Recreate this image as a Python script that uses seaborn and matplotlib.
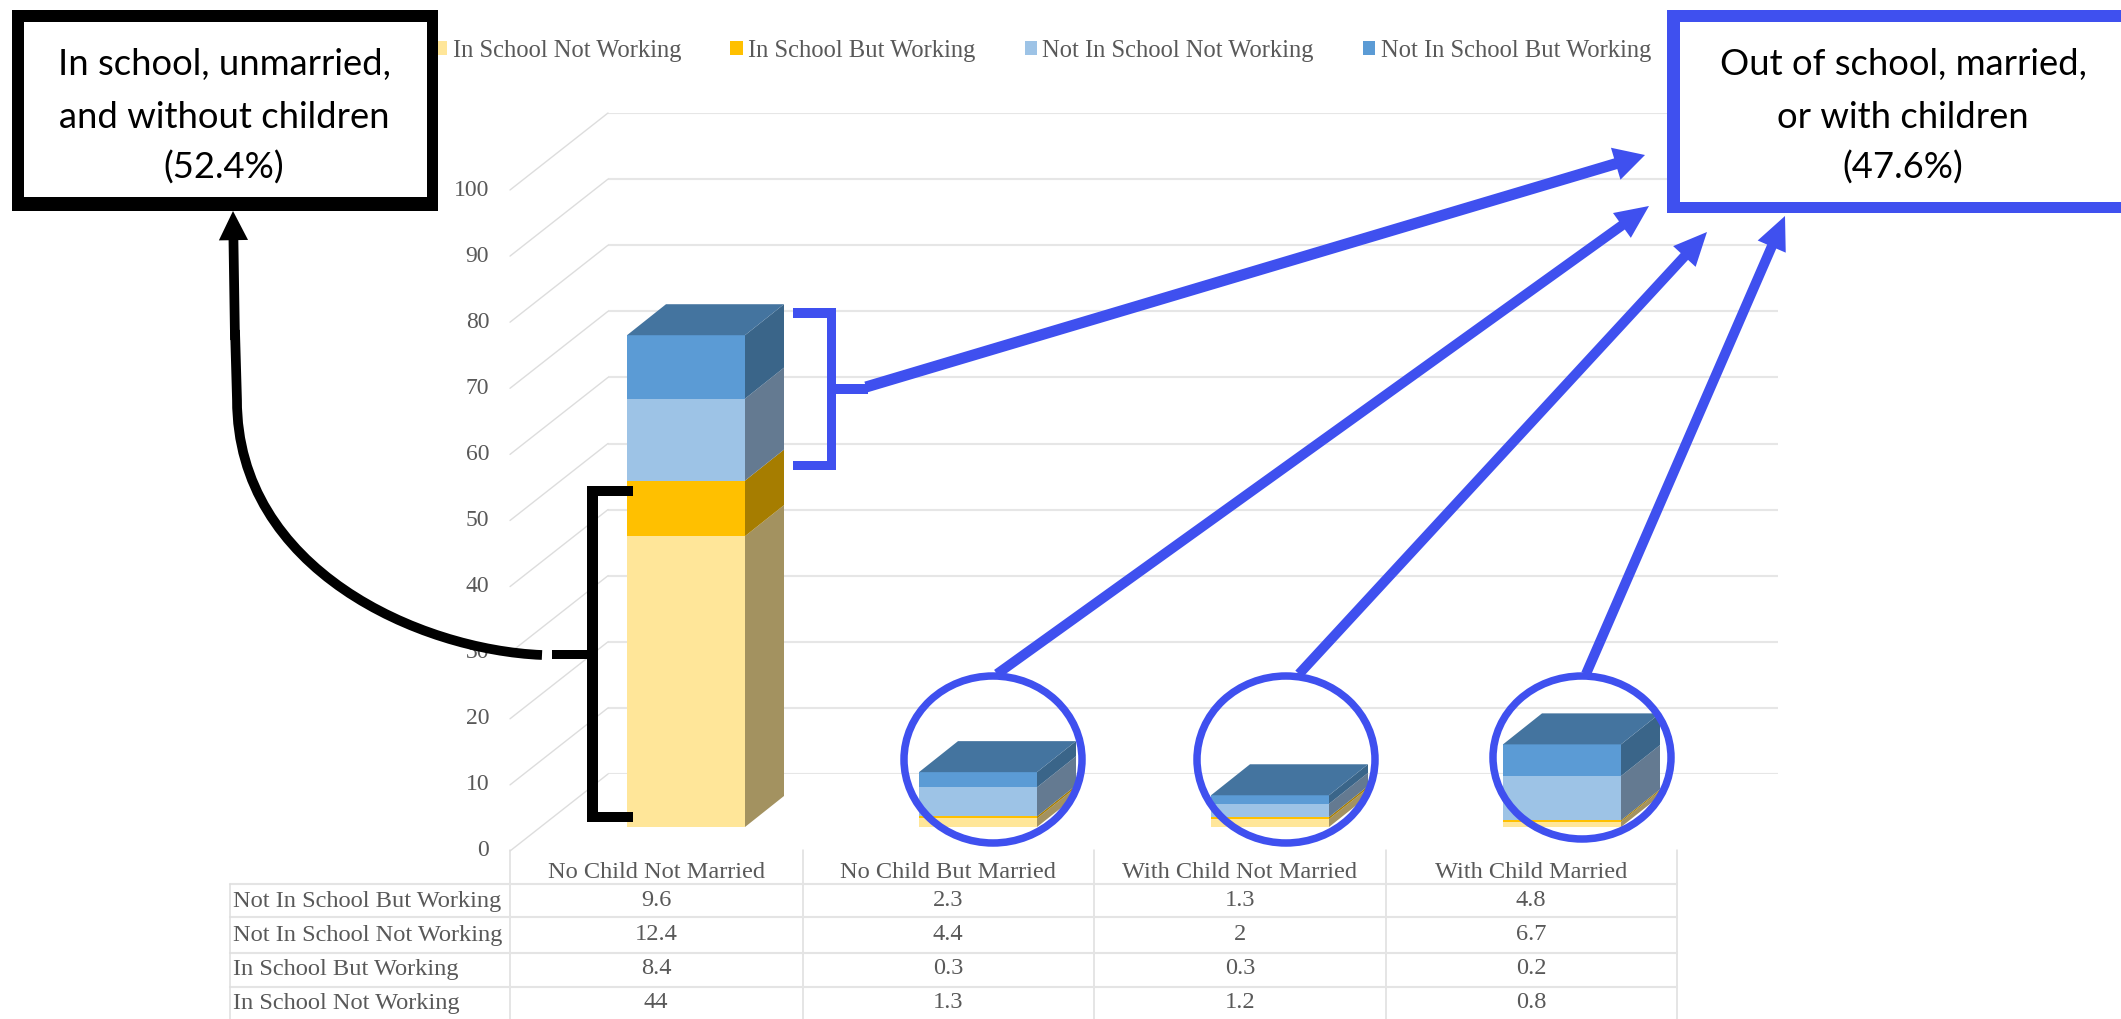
import matplotlib
matplotlib.use("Agg")
import matplotlib.pyplot as plt
import numpy as np
import seaborn as sns
from matplotlib.patches import Ellipse, FancyArrowPatch, PathPatch, Patch, Polygon, Rectangle
from matplotlib.path import Path

# Shares by household status, stacked from the bottom up
categories = ["No Child Not Married", "No Child But Married", "With Child Not Married", "With Child Married"]
in_school_not_working = [44, 1.3, 1.2, 0.8]
in_school_working = [8.4, 0.3, 0.3, 0.2]
not_in_school_not_working = [12.4, 4.4, 2, 6.7]
not_in_school_working = [9.6, 2.3, 1.3, 4.8]
series_names = ["In School Not Working", "In School But Working",
                "Not In School Not Working", "Not In School But Working"]
axis_ticks = list(range(0, 101, 10))
left_box_text = "In school, unmarried,\nand without children\n(52.4%)"
right_box_text = "Out of school, married,\nor with children\n(47.6%)"

FRONT = ["#FFE699", "#FFC000", "#9DC3E6", "#5B9BD5"]
SIDE = ["#A39260", "#A67D00", "#647A91", "#3A6589"]
ROOF = "#44749F"
BLUE = "#3F50EF"
GREY = "#595959"
SERIF = "Liberation Serif"
W, H = 2121, 1019

sns.set_theme(style="white")
plt.rcParams["font.family"] = [SERIF, "DejaVu Sans"]
fig = plt.figure(figsize=(W / 100, H / 100), dpi=100, facecolor="white")


def axes_px(x0, x1, y_top, y_bottom, **kw):
    return fig.add_axes([x0 / W, 1 - y_bottom / H, (x1 - x0) / W, (y_bottom - y_top) / H], **kw)


series = np.array([in_school_not_working, in_school_working,
                   not_in_school_not_working, not_in_school_working], dtype=float)
tops = series.cumsum(axis=0)
bottoms = tops - series

# Back wall with its horizontal gridlines
UNIT = 6.61
ax_back = axes_px(608, 1778, 774 - 100 * UNIT, 774)
ax_back.set_ylim(0, 100)
ax_back.set_xlim(0, 1)
ax_back.set_yticks(axis_ticks)
ax_back.set_xticks([])
ax_back.tick_params(labelleft=False, left=False)
ax_back.grid(axis="y", color="#E6E6E6", lw=1.5)
sns.despine(ax=ax_back, left=True, bottom=True)
ax_back.patch.set_alpha(0)

# Front scale carrying the value labels
ax_front = axes_px(510, 608, 851 - 100 * UNIT, 851)
ax_front.set_ylim(0, 100)
ax_front.set_xlim(0, 1)
ax_front.set_yticks(axis_ticks)
ax_front.set_yticklabels([str(t) for t in axis_ticks], fontsize=17, color=GREY, va="center")
ax_front.set_xticks([])
ax_front.tick_params(axis="y", length=0, pad=15)
sns.despine(ax=ax_front, left=True, bottom=True)
ax_front.patch.set_alpha(0)
depth_rise = (851 - 774) / UNIT
for t in axis_ticks:
    ax_front.plot([0, 1], [t, t + depth_rise], color="#DDDDDD", lw=1, clip_on=False)

# Bars: the axes maps a category step to 292 px, value 0 to y=827
ax = axes_px(510, 1778, 827 - 100 * UNIT, 827)
ax.patch.set_alpha(0)
STEP = 292
BAR_W = 118 / STEP
DX, DY = 39 / STEP, 31 / UNIT
for level in range(3, -1, -1):
    sns.barplot(x=categories, y=tops[level], color=FRONT[level], width=BAR_W,
                saturation=1, ax=ax, linewidth=0)
ax.set_xlim((510 - 686) / STEP, (1778 - 686) / STEP)
ax.set_ylim(0, 100)
ax.set_xticks([])
ax.set_yticks([])
ax.set_xlabel("")
ax.set_ylabel("")
sns.despine(ax=ax, left=True, bottom=True)
for i in range(len(categories)):
    xr = i + BAR_W / 2
    xl = i - BAR_W / 2
    for level in range(4):
        y0, y1 = bottoms[level, i], tops[level, i]
        ax.add_patch(Polygon([(xr, y0), (xr + DX, y0 + DY), (xr + DX, y1 + DY), (xr, y1)],
                             fc=SIDE[level], ec="none", clip_on=False))
    top = tops[-1, i]
    ax.add_patch(Polygon([(xl, top), (xr, top), (xr + DX, top + DY), (xl + DX, top + DY)],
                         fc=ROOF, ec="none", clip_on=False))

handles = [Patch(fc=c, ec="none") for c in FRONT]
ax.legend(handles, series_names, ncol=4, loc="center left", frameon=False,
          bbox_to_anchor=(435 / W, 1 - 51 / H), bbox_transform=fig.transFigure,
          borderaxespad=0, borderpad=0, fontsize=17.7, labelcolor=GREY,
          handlelength=0.5, handleheight=0.5, handletextpad=0.22, columnspacing=2.0)

# Overlay in pixel coordinates: data table, callout boxes, brackets and arrows
ov = fig.add_axes([0, 0, 1, 1], zorder=5)
ov.set_xlim(0, W)
ov.set_ylim(H, 0)
ov.axis("off")
ov.patch.set_alpha(0)

LINE = "#DEDEDE"
col_edges = [510, 803, 1094, 1386, 1677]
row_edges = [884, 917, 953, 987]
for x in col_edges:
    ov.plot([x, x], [850, H], color=LINE, lw=1.1)
for y in row_edges:
    ov.plot([230, 1677], [y, y], color="#E4E4E4", lw=1.5)
ov.plot([230, 230], [884, H], color=LINE, lw=1.1)

col_centers = [656, 948, 1240, 1531]
for cx, name in zip(col_centers, categories):
    ov.text(cx, 872, name, ha="center", va="center", fontsize=17.6, color=GREY)
rows = list(zip(series_names[::-1], series[::-1]))
row_y = [901, 935, 969, 1003]
for y, (name, vals) in zip(row_y, rows):
    ov.text(233, y, name, ha="left", va="center", fontsize=17.6, color=GREY)
    for cx, v in zip(col_centers, vals):
        ov.text(cx, y, f"{v:g}", ha="center", va="center", fontsize=17.6, color=GREY)

# Callout boxes
ov.add_patch(Rectangle((12, 10), 426, 201, fc="black", ec="none", zorder=6))
ov.add_patch(Rectangle((24, 22), 403, 175, fc="white", ec="none", zorder=6))
ov.add_patch(Rectangle((1667, 10), W - 1667, 203, fc=BLUE, ec="none", zorder=6))
ov.add_patch(Rectangle((1680, 22), W - 1680, 180, fc="white", ec="none", zorder=6))
for cx, text in [(224, left_box_text), (1903, right_box_text)]:
    for y, line in zip([64, 117, 168], text.split("\n")):
        ov.text(cx, y, line, ha="center", va="center", fontsize=26.2, color="black",
                family="Lato", zorder=7)


def bar_line(x0, y0, x1, y1, color):
    ov.add_patch(Rectangle((min(x0, x1), min(y0, y1)), abs(x1 - x0), abs(y1 - y0),
                           fc=color, ec="none", zorder=4))


def arrow(start, tip, color, tail=8.0, head_w=24, head_l=22):
    style = f"simple,head_length={head_l},head_width={head_w},tail_width={tail}"
    ov.add_patch(FancyArrowPatch(start, tip, arrowstyle=style, mutation_scale=1,
                                 shrinkA=0, shrinkB=0, fc=color, ec="none", lw=0, zorder=4))


# Blue bracket and arrows towards the right box
bar_line(793, 308, 836, 318, BLUE)
bar_line(793, 461, 836, 470, BLUE)
bar_line(827, 308, 836, 470, BLUE)
bar_line(836, 384, 868, 394, BLUE)
arrow((866, 387), (1645, 155), BLUE)
for start, tip in [((997, 674), (1649, 206)), ((1299, 674), (1707, 232)), ((1586, 674), (1785, 216))]:
    arrow(start, tip, BLUE, tail=7.2, head_w=22, head_l=24)

# Rings around the small stacks
for cx, cy, wid, hei in [(993, 759.5, 178, 167), (1286, 759.5, 178, 167), (1582, 757.5, 178, 163)]:
    ov.add_patch(Ellipse((cx, cy), wid, hei, fc="none", ec=BLUE, lw=5.4, zorder=4))

# Black bracket and curved arrow towards the left box
bar_line(587, 486, 633, 496, "black")
bar_line(587, 812, 633, 822, "black")
bar_line(587, 486, 598, 822, "black")
bar_line(552, 650, 590, 659, "black")
curve = Path([(542, 655), (420, 650), (237, 570), (237, 400), (235, 330)],
             [Path.MOVETO, Path.CURVE4, Path.CURVE4, Path.CURVE4, Path.LINETO])
ov.add_patch(PathPatch(curve, fc="none", ec="black", lw=7, capstyle="butt", zorder=4))
arrow((235, 340), (233, 211), "black", tail=7, head_w=21, head_l=21)

fig.savefig("out.png", dpi=100, facecolor="white")
